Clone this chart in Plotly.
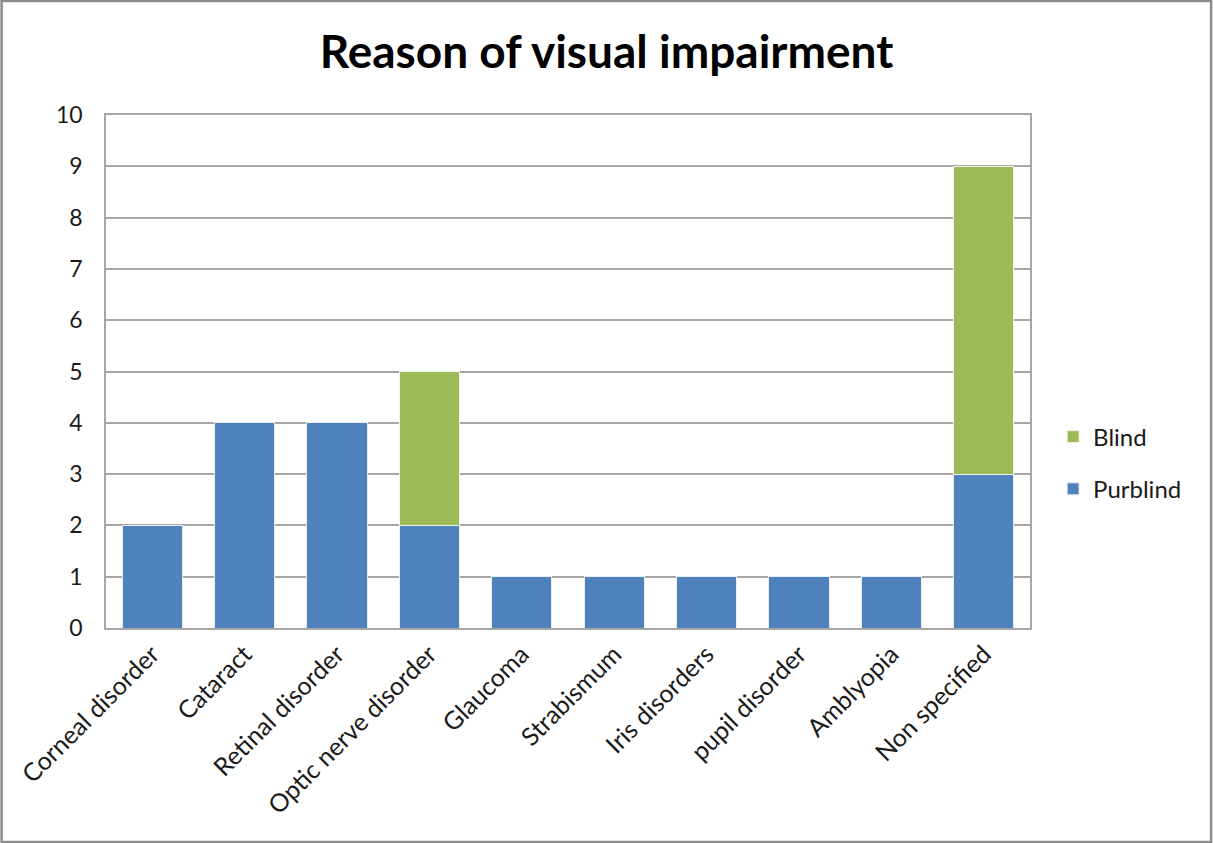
import plotly.graph_objects as go

categories = ["Corneal disorder", "Cataract", "Retinal disorder", "Optic nerve disorder",
              "Glaucoma", "Strabismum", "Iris disorders", "pupil disorder",
              "Amblyopia", "Non specified"]
purblind = [2, 4, 4, 2, 1, 1, 1, 1, 1, 3]
blind = [None, None, None, 3, None, None, None, None, None, 6]
y_ticks = list(range(0, 11))

FONT = "Lato"

fig = go.Figure()
fig.add_trace(go.Bar(
    x=categories, y=purblind, name="Purblind", legendgroup="p", legendrank=2,
    marker=dict(color="#4F81BD", line=dict(color="#E8EEF7", width=1)),
))
fig.add_trace(go.Bar(
    x=categories, y=blind, name="Blind", legendgroup="b", legendrank=1,
    marker=dict(color="#9BBB59", line=dict(color="#F0F5E8", width=1)),
))

fig.update_layout(
    barmode="stack",
    bargap=0.35,
    width=1213, height=843,
    margin=dict(l=106, r=183, t=115, b=215),
    paper_bgcolor="white",
    plot_bgcolor="white",
    font=dict(family=FONT, color="#000000", size=23),
    title=dict(text="<b>Reason of visual impairment</b>", x=0.5, xref="container",
               xanchor="center", y=0.938, yanchor="middle",
               font=dict(family=FONT, size=46, color="#000000")),
    legend=dict(x=1.025, y=0.3216, xanchor="left", yanchor="middle",
                traceorder="grouped", tracegroupgap=18,
                font=dict(family=FONT, size=24, color="#1a1a1a"),
                itemwidth=30),
    showlegend=True,
    shapes=[dict(type="rect", xref="paper", yref="paper", x0=-0.113, x1=1.196,
                 y0=-0.417, y1=1.222,
                 line=dict(color="#8C8C8C", width=2.5), fillcolor="rgba(0,0,0,0)",
                 layer="below")],
)

fig.update_xaxes(
    type="category", tickangle=-45, showgrid=False,
    showline=True, linecolor="#A6A6A6", linewidth=1.5, mirror=True,
    ticks="", tickfont=dict(family=FONT, size=25, color="#1a1a1a"),
)
fig.update_yaxes(
    range=[0, 10], tickvals=y_ticks, showgrid=True, gridcolor="#A6A6A6", gridwidth=1.5,
    showline=True, linecolor="#A6A6A6", linewidth=1.5, mirror=True,
    ticks="", ticklabelstandoff=17, zeroline=False,
    tickfont=dict(family=FONT, size=23, color="#1a1a1a"),
)

fig.write_html("out.html")
